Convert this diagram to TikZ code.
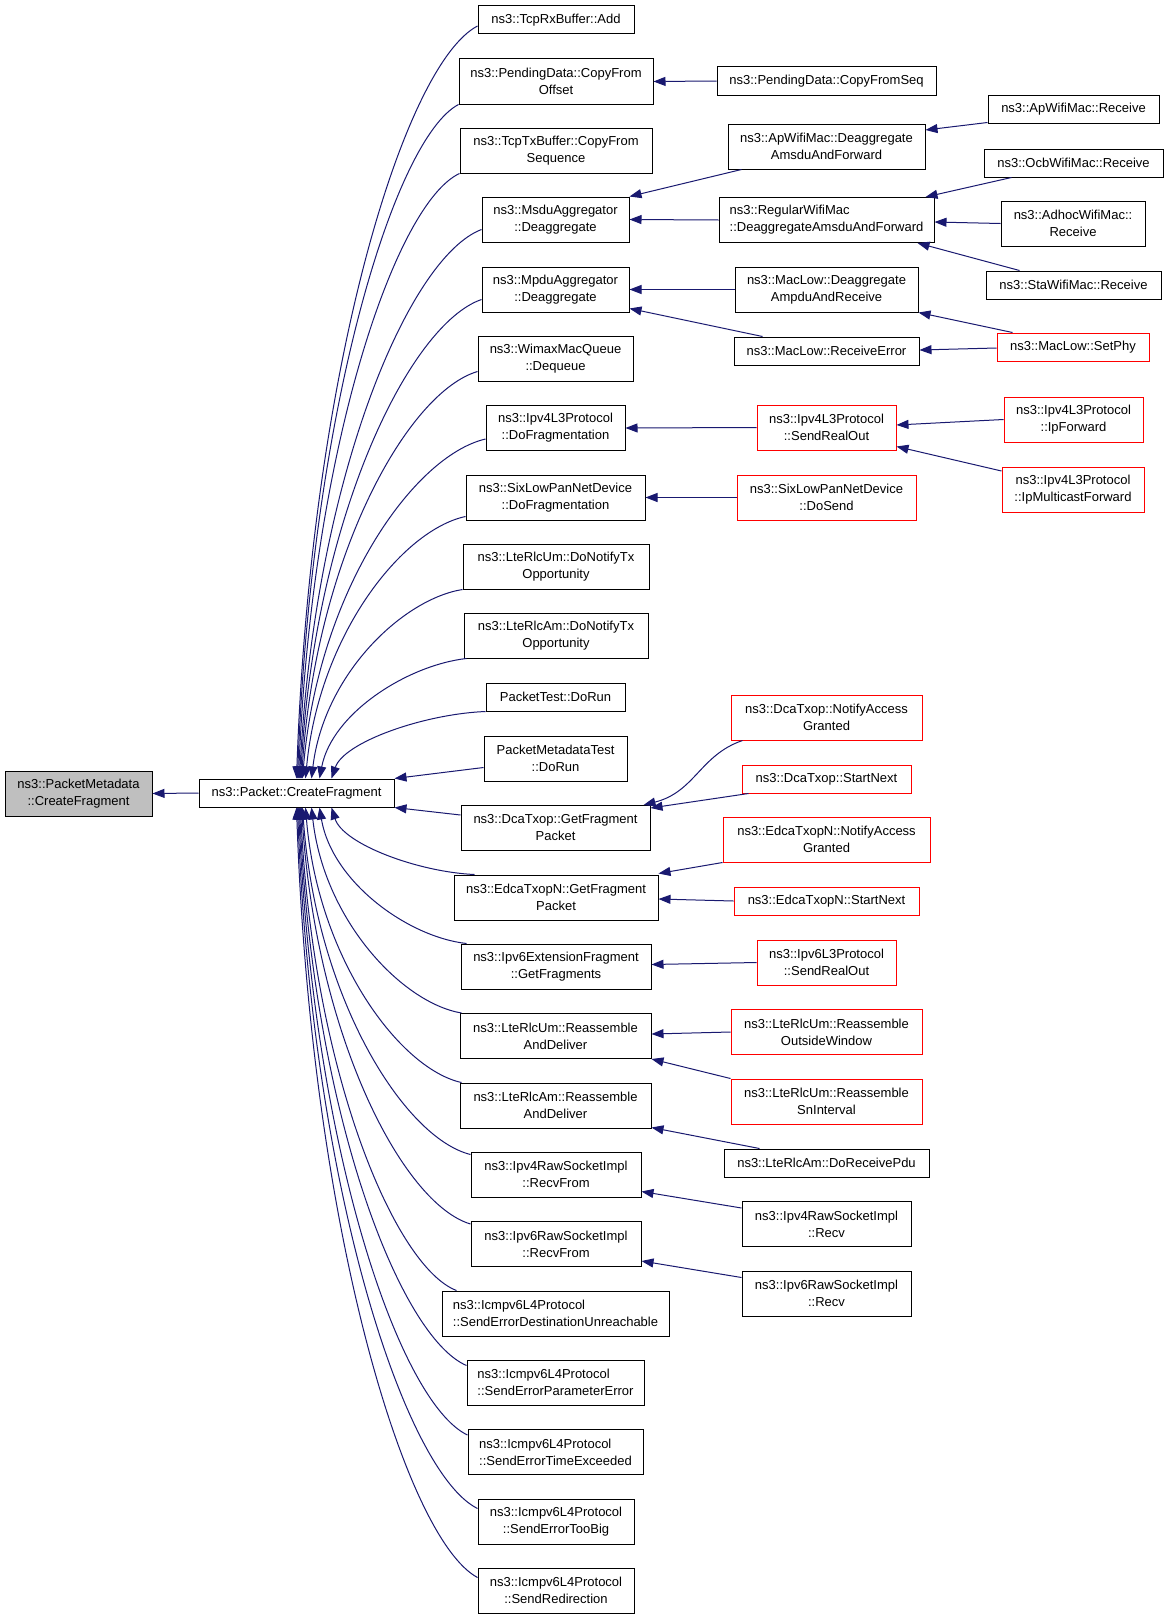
\documentclass[tikz,border=0pt]{standalone}
\usepackage{fontspec}
\setmainfont{Liberation Sans}
\usetikzlibrary{arrows.meta,calc}
\definecolor{edgeblue}{HTML}{191970}
\definecolor{boxgray}{HTML}{BFBFBF}
\newcommand\dfont{\fontsize{13}{17}\selectfont}
\newcommand\bx[6]{\node[#1, minimum width=#4pt, minimum height=#5pt] (#2) at (#3) {#6};}
\tikzset{
 nb/.style={draw=black, line width=1pt, fill=white, inner sep=0pt, font=\dfont, align=center},
 rb/.style={nb, draw=red},
 lb/.style={nb, align=left},
 ce/.style={draw=edgeblue, line width=1pt, -{Triangle[length=12pt,width=9pt]}}
}
\begin{document}
\begin{tikzpicture}[x=1pt,y=-1pt]
\useasboundingbox (0,0) rectangle (1168,1619);
\fill[white] (0,0) rectangle (1168,1619);
% column 1
\bx{nb,fill=boxgray}{pm}{78.5,793.5}{147}{45}{ns3::PacketMetadata\\::CreateFragment}
\bx{nb}{cf}{296.5,793}{195}{28}{ns3::Packet::CreateFragment}
% column 2
\bx{nb}{tcprx}{556,20}{156}{28}{ns3::TcpRxBuffer::Add}
\bx{nb}{cfo}{556,81.5}{194}{45}{ns3::PendingData::CopyFrom\\Offset}
\bx{nb}{tcptx}{556,150.5}{192}{45}{ns3::TcpTxBuffer::CopyFrom\\Sequence}
\bx{nb}{msdu}{555.5,219.5}{147}{45}{ns3::MsduAggregator\\::Deaggregate}
\bx{nb}{mpdu}{555.5,289.5}{147}{45}{ns3::MpduAggregator\\::Deaggregate}
\bx{nb}{wimax}{555.5,358.5}{155}{45}{ns3::WimaxMacQueue\\::Dequeue}
\bx{nb}{ipvfrag}{555.5,428}{139}{45}{ns3::Ipv4L3Protocol\\::DoFragmentation}
\bx{nb}{sixfrag}{555.5,497.5}{179}{45}{ns3::SixLowPanNetDevice\\::DoFragmentation}
\bx{nb}{umnotify}{556,566.5}{186}{45}{ns3::LteRlcUm::DoNotifyTx\\Opportunity}
\bx{nb}{amnotify}{556,635.5}{184}{45}{ns3::LteRlcAm::DoNotifyTx\\Opportunity}
\bx{nb}{ptest}{555.5,697}{139}{28}{PacketTest::DoRun}
\bx{nb}{pmtest}{555.5,758.5}{143}{45}{PacketMetadataTest\\::DoRun}
\bx{nb}{dcafrag}{555.5,828}{189}{45}{ns3::DcaTxop::GetFragment\\Packet}
\bx{nb}{edcafrag}{556,897.5}{204}{45}{ns3::EdcaTxopN::GetFragment\\Packet}
\bx{nb}{ipvsext}{556,966.5}{190}{45}{ns3::Ipv6ExtensionFragment\\::GetFragments}
\bx{nb}{umreasm}{555.5,1036}{191}{45}{ns3::LteRlcUm::Reassemble\\AndDeliver}
\bx{nb}{amreasm}{555.5,1105.5}{191}{45}{ns3::LteRlcAm::Reassemble\\AndDeliver}
\bx{nb}{ipvfraw}{556,1174.5}{170}{45}{ns3::Ipv4RawSocketImpl\\::RecvFrom}
\bx{nb}{ipvsraw}{556,1244}{170}{45}{ns3::Ipv6RawSocketImpl\\::RecvFrom}
\bx{lb}{icmpdu}{555.5,1313.5}{227}{45}{ns3::Icmpv6L4Protocol\\::SendErrorDestinationUnreachable}
\bx{lb}{icmppe}{555.5,1382.5}{177}{45}{ns3::Icmpv6L4Protocol\\::SendErrorParameterError}
\bx{lb}{icmpte}{555.5,1452}{175}{45}{ns3::Icmpv6L4Protocol\\::SendErrorTimeExceeded}
\bx{nb}{icmptb}{556,1521.5}{156}{45}{ns3::Icmpv6L4Protocol\\::SendErrorTooBig}
\bx{nb}{icmprd}{556,1590.5}{156}{45}{ns3::Icmpv6L4Protocol\\::SendRedirection}
% column 3
\bx{nb}{cfseq}{826.5,81}{219}{28}{ns3::PendingData::CopyFromSeq}
\bx{nb}{apdeagg}{826.5,146.5}{197}{45}{ns3::ApWifiMac::Deaggregate\\AmsduAndForward}
\bx{lb}{regdeagg}{826.5,220}{215}{45}{ns3::RegularWifiMac\\::DeaggregateAmsduAndForward}
\bx{nb}{mldeagg}{826.5,289.5}{183}{45}{ns3::MacLow::Deaggregate\\AmpduAndReceive}
\bx{nb}{mlrecverr}{826.5,351}{185}{28}{ns3::MacLow::ReceiveError}
\bx{rb}{ipvfsro}{826.5,427.5}{139}{45}{ns3::Ipv4L3Protocol\\::SendRealOut}
\bx{rb}{sixsend}{826.5,497.5}{179}{45}{ns3::SixLowPanNetDevice\\::DoSend}
\bx{rb}{dcanag}{826.5,717.5}{191}{45}{ns3::DcaTxop::NotifyAccess\\Granted}
\bx{rb}{dcasn}{826.5,779}{169}{28}{ns3::DcaTxop::StartNext}
\bx{rb}{edcanag}{826.5,839.5}{207}{45}{ns3::EdcaTxopN::NotifyAccess\\Granted}
\bx{rb}{edcasn}{826.5,901}{185}{28}{ns3::EdcaTxopN::StartNext}
\bx{rb}{ipvssro}{826.5,962.5}{139}{45}{ns3::Ipv6L3Protocol\\::SendRealOut}
\bx{rb}{umow}{826.5,1032}{191}{45}{ns3::LteRlcUm::Reassemble\\OutsideWindow}
\bx{rb}{umsn}{826.5,1101.5}{191}{45}{ns3::LteRlcUm::Reassemble\\SnInterval}
\bx{nb}{amrecv}{826.5,1163}{205}{28}{ns3::LteRlcAm::DoReceivePdu}
\bx{nb}{ipvfrecv}{826.5,1224}{169}{45}{ns3::Ipv4RawSocketImpl\\::Recv}
\bx{nb}{ipvsrecv}{826.5,1293.5}{169}{45}{ns3::Ipv6RawSocketImpl\\::Recv}
% column 4
\bx{nb}{apreceive}{1073.5,109}{171}{28}{ns3::ApWifiMac::Receive}
\bx{nb}{ocbrecv}{1073.5,163}{179}{28}{ns3::OcbWifiMac::Receive}
\bx{nb}{adhocrecv}{1073,223.5}{144}{45}{ns3::AdhocWifiMac::\\Receive}
\bx{nb}{starecv}{1073.5,285}{175}{28}{ns3::StaWifiMac::Receive}
\bx{rb}{setphy}{1073,347}{152}{28}{ns3::MacLow::SetPhy}
\bx{rb}{ipfwd}{1073.5,419.5}{139}{45}{ns3::Ipv4L3Protocol\\::IpForward}
\bx{rb}{ipmfwd}{1073,489.5}{142}{45}{ns3::Ipv4L3Protocol\\::IpMulticastForward}

% edges into Packet::CreateFragment
\draw[ce] (cf.west) -- (pm.east);
\draw[ce] ($(tcprx.west)+(0,6)$) .. controls (405,64) and (311,365) .. ($(cf.north west)+(98,0)$);
\draw[ce] (cfo.south west) .. controls (395,138) and (311,408) .. ($(cf.north west)+(99,0)$);
\draw[ce] (tcptx.south west) .. controls (396,203) and (312,446) .. ($(cf.north west)+(100,0)$);
\draw[ce] ($(msdu.west)+(0,10)$) .. controls (409,257) and (315,477) .. ($(cf.north west)+(101,0)$);
\draw[ce] ($(mpdu.west)+(0,10)$) .. controls (410,324) and (315,516) .. ($(cf.north west)+(102,0)$);
\draw[ce] ($(wimax.west)+(0,13)$) .. controls (408,392) and (316,555) .. ($(cf.north west)+(103,0)$);
\draw[ce] ($(ipvfrag.west)+(0,11)$) .. controls (413,456) and (318,592) .. ($(cf.north west)+(104,0)$);
\draw[ce] ($(sixfrag.west)+(0,19)$) .. controls (402,530) and (319,635) .. ($(cf.north west)+(107,0)$);
\draw[ce] (umnotify.south west) .. controls (403,599) and (324,674) .. ($(cf.north west)+(113,0)$);
\draw[ce] ($(amnotify.south west)+(3,0)$) .. controls (408,665) and (332,713) .. ($(cf.north west)+(121,0)$);
\draw[ce] (ptest.south west) .. controls (424,714) and (344,742) .. ($(cf.north west)+(133,0)$);
\draw[ce] ($(pmtest.west)+(0,9)$) -- (cf.north east);
\draw[ce] ($(dcafrag.west)+(0,-13)$) -- (cf.south east);
\draw[ce] ($(edcafrag.north west)+(21,0)$) .. controls (418,872) and (343,844) .. ($(cf.south west)+(133,0)$);
\draw[ce] ($(ipvsext.north west)+(6,0)$) .. controls (408,937) and (332,882) .. ($(cf.south west)+(121,0)$);
\draw[ce] ($(umreasm.north west)+(2,0)$) .. controls (402,1003) and (324,920) .. ($(cf.south west)+(113,0)$);
\draw[ce] ($(amreasm.north west)+(2,0)$) .. controls (400,1069) and (318,959) .. ($(cf.south west)+(107,0)$);
\draw[ce] ($(ipvfraw.north west)+(0,3)$) .. controls (404,1138) and (316,998) .. ($(cf.south west)+(104,0)$);
\draw[ce] ($(ipvsraw.north west)+(0,3)$) .. controls (403,1204) and (316,1037) .. ($(cf.south west)+(103,0)$);
\draw[ce] ($(icmpdu.north west)+(15,0)$) .. controls (395,1267) and (313,1073) .. ($(cf.south west)+(102,0)$);
\draw[ce] ($(icmppe.west)+(0,-17)$) .. controls (400,1337) and (313,1114) .. ($(cf.south west)+(101,0)$);
\draw[ce] ($(icmpte.west)+(0,-17)$) .. controls (400,1403) and (313,1152) .. ($(cf.south west)+(100,0)$);
\draw[ce] ($(icmptb.west)+(0,-13)$) .. controls (406,1473) and (312,1193) .. ($(cf.south west)+(99,0)$);
\draw[ce] ($(icmprd.west)+(0,-13)$) .. controls (406,1539) and (311,1231) .. ($(cf.south west)+(98,0)$);

% edges from column 3 to column 2
\draw[ce] (cfseq.west) -- (cfo.east);
\draw[ce] ($(apdeagg.south west)+(14,0)$) -- (msdu.north east);
\draw[ce] (regdeagg.west) -- (msdu.east);
\draw[ce] (mldeagg.west) -- (mpdu.east);
\draw[ce] ($(mlrecverr.north west)+(29,0)$) -- ($(mpdu.south east)+(0,-4)$);
\draw[ce] (ipvfsro.west) -- (ipvfrag.east);
\draw[ce] (sixsend.west) -- (sixfrag.east);
\draw[ce] ($(dcanag.south west)+(12,0)$) .. controls (700,755) and (695,792) .. ($(dcafrag.north east)+(-7,0)$);
\draw[ce] ($(dcasn.south west)+(7,0)$) -- ($(dcafrag.north east)+(0,3)$);
\draw[ce] (edcanag.south west) -- ($(edcafrag.north east)+(0,-1)$);
\draw[ce] (edcasn.west) -- ($(edcafrag.east)+(0,1.5)$);
\draw[ce] (ipvssro.west) -- ($(ipvsext.east)+(0,-2)$);
\draw[ce] (umow.west) -- ($(umreasm.east)+(0,-2)$);
\draw[ce] (umsn.north west) -- (umreasm.south east);
\draw[ce] ($(amrecv.north west)+(36,0)$) -- ($(amreasm.south east)+(0,-1)$);
\draw[ce] ($(ipvfrecv.north west)+(0,7)$) -- ($(ipvfraw.south east)+(0,-6)$);
\draw[ce] ($(ipvsrecv.north west)+(0,7)$) -- ($(ipvsraw.south east)+(0,-6)$);

% edges from column 4 to column 3
\draw[ce] ($(apreceive.south west)+(0,-1)$) -- ($(apdeagg.east)+(0,-16.5)$);
\draw[ce] ($(ocbrecv.south west)+(28,0)$) -- ($(regdeagg.north east)+(-9,0)$);
\draw[ce] (adhocrecv.west) -- ($(regdeagg.east)+(0,2)$);
\draw[ce] ($(starecv.north west)+(34,0)$) -- ($(regdeagg.south east)+(-17,0)$);
\draw[ce] ($(setphy.north west)+(16,0)$) -- (mldeagg.south east);
\draw[ce] ($(setphy.west)+(0,1)$) -- ($(mlrecverr.east)+(0,-1)$);
\draw[ce] (ipfwd.west) -- ($(ipvfsro.east)+(0,-2.5)$);
\draw[ce] ($(ipmfwd.west)+(0,-18.5)$) -- ($(ipvfsro.south east)+(0,-4)$);
\end{tikzpicture}
\end{document}
